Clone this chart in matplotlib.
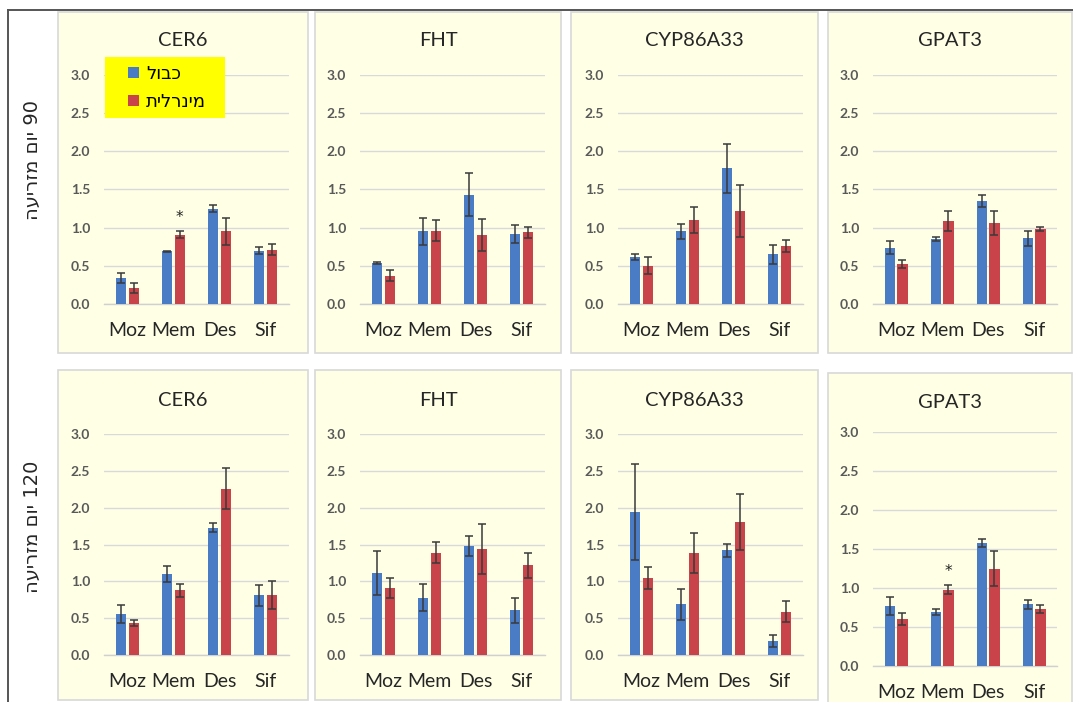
import matplotlib
matplotlib.use("Agg")
import matplotlib.pyplot as plt
from matplotlib.patches import Rectangle, Patch
from matplotlib.lines import Line2D
import numpy as np

# ---------------- data ----------------
categories = ["Moz", "Mem", "Des", "Sif"]
genes = ["CER6", "FHT", "CYP86A33", "GPAT3"]
series_names = ["כבול", "מינרלית"]          # peat, mineral (logical order)
row_labels = ["90 יום מזריעה", "120 יום מזריעה"]

# 90 days
d90_peat = {
    "CER6":     [0.34, 0.69, 1.25, 0.70],
    "FHT":      [0.54, 0.95, 1.43, 0.92],
    "CYP86A33": [0.61, 0.95, 1.78, 0.65],
    "GPAT3":    [0.74, 0.85, 1.35, 0.86],
}
d90_peat_err = {
    "CER6":     [0.06, 0.01, 0.05, 0.05],
    "FHT":      [0.01, 0.18, 0.28, 0.12],
    "CYP86A33": [0.04, 0.10, 0.32, 0.12],
    "GPAT3":    [0.08, 0.03, 0.08, 0.10],
}
d90_min = {
    "CER6":     [0.21, 0.91, 0.95, 0.71],
    "FHT":      [0.37, 0.96, 0.90, 0.94],
    "CYP86A33": [0.50, 1.10, 1.22, 0.76],
    "GPAT3":    [0.52, 1.09, 1.06, 0.98],
}
d90_min_err = {
    "CER6":     [0.06, 0.05, 0.18, 0.07],
    "FHT":      [0.07, 0.14, 0.21, 0.07],
    "CYP86A33": [0.11, 0.17, 0.34, 0.08],
    "GPAT3":    [0.05, 0.13, 0.16, 0.03],
}
# 120 days
d120_peat = {
    "CER6":     [0.56, 1.10, 1.73, 0.81],
    "FHT":      [1.11, 0.78, 1.48, 0.61],
    "CYP86A33": [1.94, 0.69, 1.42, 0.19],
    "GPAT3":    [0.77, 0.69, 1.58, 0.79],
}
d120_peat_err = {
    "CER6":     [0.12, 0.11, 0.06, 0.14],
    "FHT":      [0.30, 0.18, 0.14, 0.17],
    "CYP86A33": [0.65, 0.21, 0.09, 0.08],
    "GPAT3":    [0.11, 0.04, 0.05, 0.06],
}
d120_min = {
    "CER6":     [0.43, 0.88, 2.26, 0.82],
    "FHT":      [0.91, 1.39, 1.44, 1.22],
    "CYP86A33": [1.04, 1.38, 1.80, 0.59],
    "GPAT3":    [0.60, 0.98, 1.25, 0.73],
}
d120_min_err = {
    "CER6":     [0.04, 0.09, 0.28, 0.19],
    "FHT":      [0.13, 0.14, 0.34, 0.17],
    "CYP86A33": [0.15, 0.27, 0.38, 0.14],
    "GPAT3":    [0.08, 0.06, 0.23, 0.05],
}
# significance stars: (row, gene, category index)
stars = [(0, "CER6", 1), (1, "GPAT3", 1)]

rows = [(d90_peat, d90_peat_err, d90_min, d90_min_err),
        (d120_peat, d120_peat_err, d120_min, d120_min_err)]

# ---------------- style ----------------
BLUE = "#4A7CC6"
RED = "#C9444A"
PANEL = "#FFFFE6"
W, H = 1073, 702
DPI = 100


def visual(s):
    """Hebrew logical -> visual order (digits kept left-to-right)."""
    words = s.split(" ")
    out = []
    for w in reversed(words):
        if w.isdigit():
            out.append(w)
        else:
            out.append(w[::-1])
    return " ".join(out)


fig = plt.figure(figsize=(W / DPI, H / DPI), dpi=DPI)
fig.patch.set_facecolor("white")


def fx(px):
    return px / W


def fy(py):
    return 1 - py / H


# outer frame lines
fig.add_artist(Line2D([fx(8), fx(8)], [fy(10), fy(702)], color="#555555", lw=1.4))
fig.add_artist(Line2D([fx(8), fx(1073)], [fy(10), fy(10)], color="#555555", lw=1.4))

# panel boxes (x0, x1, y0, y1) in px
panel_x = [(58, 308), (315, 561), (571, 818), (828, 1072)]
panel_y = [[(12, 353)] * 4, [(370, 700), (370, 700), (370, 700), (373, 703)]]
for r in range(2):
    for c in range(4):
        x0, x1 = panel_x[c]
        y0, y1 = panel_y[r][c]
        fig.add_artist(Rectangle((fx(x0), fy(y1)), fx(x1) - fx(x0), fy(y0) - fy(y1),
                                 facecolor=PANEL, edgecolor="#D8D8D8", lw=1.2,
                                 transform=fig.transFigure, zorder=0))

# axes geometry: (left px, right px, y of 0.0, y of 3.0)
ax_x = [(104, 289), (360, 545), (618, 803), (873, 1057)]
ax_y = [[(304, 75)] * 4, [(655, 434), (655, 434), (655, 434), (666, 432)]]
title_y = [40, 400]
title_y_last = 402

x = np.arange(len(categories))
bw = 0.22
off = 0.14

for r in range(2):
    peat, peat_err, mine, mine_err = rows[r]
    for c, g in enumerate(genes):
        l, rt = ax_x[c]
        y0, y3 = ax_y[r][c]
        ax = fig.add_axes([fx(l), fy(y0), fx(rt) - fx(l), fy(y3) - fy(y0)])
        ax.set_facecolor("none")
        ax.bar(x - off, peat[g], bw, color=BLUE, zorder=3)
        ax.bar(x + off, mine[g], bw, color=RED, zorder=3)
        ax.errorbar(x - off, peat[g], yerr=peat_err[g], fmt="none",
                    ecolor="#3A3A3A", elinewidth=1.1, capsize=3, capthick=1.1, zorder=4)
        ax.errorbar(x + off, mine[g], yerr=mine_err[g], fmt="none",
                    ecolor="#3A3A3A", elinewidth=1.1, capsize=3, capthick=1.1, zorder=4)
        ax.set_xlim(-0.5, 3.5)
        ax.set_ylim(0, 3.0)
        ax.set_yticks(np.arange(0, 3.01, 0.5))
        ax.set_yticklabels([f"{v:.1f}" for v in np.arange(0, 3.01, 0.5)])
        ax.yaxis.grid(True, color="#D9D9D9", lw=1.0, zorder=0)
        ax.set_axisbelow(True)
        for s in ["top", "right", "left"]:
            ax.spines[s].set_visible(False)
        ax.spines["bottom"].set_color("#D0D0D0")
        ax.spines["bottom"].set_linewidth(1.0)
        ax.set_xticks(x)
        ax.set_xticklabels(categories, fontsize=14, color="#262626", family="Lato")
        ax.tick_params(axis="x", length=0, pad=13)
        ax.tick_params(axis="y", length=0, pad=10, labelsize=10, labelcolor="#595959")
        for t in ax.get_yticklabels():
            t.set_family("Lato")
            t.set_fontweight("bold")
        # title centred on panel
        px0, px1 = panel_x[c]
        ty = title_y[r] if not (r == 1 and c == 3) else title_y_last
        fig.text(fx((px0 + px1) / 2), fy(ty), g, ha="center", va="center",
                 fontsize=14.5, color="#262626", family="Lato")
        for (sr, sg, si) in stars:
            if sr == r and sg == g:
                ax.text(x[si] + off, mine[g][si] + mine_err[g][si] + 0.08, "*",
                        ha="center", va="bottom", fontsize=11, color="#222222")

# legend on the first panel
fig.add_artist(Rectangle((fx(105), fy(118)), fx(225) - fx(105), fy(57) - fy(118),
                         facecolor="#FFFF00", edgecolor="none",
                         transform=fig.transFigure, zorder=5))
handles = [Patch(facecolor=BLUE), Patch(facecolor=RED)]
leg = fig.legend(handles, [visual(s) for s in series_names],
                 loc="upper left", bbox_to_anchor=(fx(128), fy(65)),
                 frameon=False, handlelength=0.6, handleheight=0.6, handletextpad=0.4,
                 labelspacing=0.55, borderaxespad=0, borderpad=0,
                 prop={"family": "DejaVu Sans", "size": 13})
leg.set_zorder(6)

# row labels
fig.text(fx(32), fy(160), visual(row_labels[0]), rotation=90, ha="center", va="center",
         fontsize=14, color="#262626", family="DejaVu Sans")
fig.text(fx(32), fy(527), visual(row_labels[1]), rotation=90, ha="center", va="center",
         fontsize=14, color="#262626", family="DejaVu Sans")

fig.savefig("out.png", dpi=DPI, facecolor="white")
